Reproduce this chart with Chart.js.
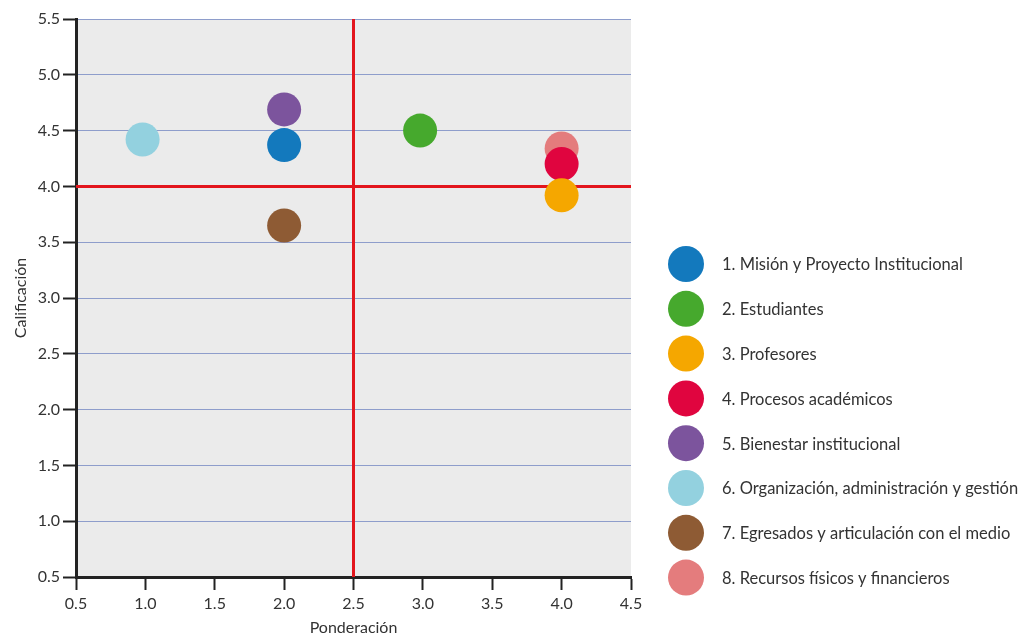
<!DOCTYPE html>
<html>
<head>
<meta charset="utf-8">
<script src="https://cdn.jsdelivr.net/npm/chart.js@4"></script>
<style>
  html, body { margin: 0; padding: 0; background: #fff; }
  canvas { display: block; }
</style>
</head>
<body>
<canvas id="chart" width="1026" height="637"></canvas>
<script>
// Factor labels, weighting (x) and score (y).
var factors = [
  "1. Misión y Proyecto Institucional",
  "2. Estudiantes",
  "3. Profesores",
  "4. Procesos académicos",
  "5. Bienestar institucional",
  "6. Organización, administración y gestión",
  "7. Egresados y articulación con el medio",
  "8. Recursos físicos y financieros"
];
var ponderacion = [2.0, 2.98, 4.0, 4.0, 2.0, 0.98, 2.0, 4.0];
var calificacion = [4.37, 4.50, 3.92, 4.20, 4.69, 4.42, 3.65, 4.34];
var colors = ["#1379bd", "#46a92d", "#f5a700", "#e0053f", "#7c549d", "#93d1df", "#8e5b34", "#e47c7d"];

// Quadrant split lines.
var xSplit = [2.5];
var ySplit = [4.0];

var FONT = "Lato, 'Open Sans', sans-serif";
var TEXT = "#333333";

(function () {
  "use strict";

  var datasets = factors.map(function (name, i) {
    return {
      label: name,
      data: [{ x: ponderacion[i], y: calificacion[i] }],
      backgroundColor: colors[i],
      borderWidth: 0,
      pointRadius: 17,
      pointHoverRadius: 17,
    };
  });

  // Gray plot background.
  var plotBg = {
    id: "plotBg",
    beforeDraw: function (chart) {
      var a = chart.chartArea, ctx = chart.ctx;
      ctx.save();
      ctx.fillStyle = "#ebebeb";
      ctx.fillRect(a.left, a.top, a.right - a.left, a.bottom - a.top);
      ctx.restore();
    },
  };

  // Red quadrant lines, under the points.
  var splitLines = {
    id: "splitLines",
    beforeDatasetsDraw: function (chart) {
      var a = chart.chartArea, ctx = chart.ctx;
      var xs = chart.scales.x, ys = chart.scales.y;
      ctx.save();
      ctx.strokeStyle = "#e3161d";
      ctx.lineWidth = 3;
      xSplit.forEach(function (v) {
        var px = xs.getPixelForValue(v);
        ctx.beginPath();
        ctx.moveTo(px, a.top);
        ctx.lineTo(px, a.bottom);
        ctx.stroke();
      });
      ySplit.forEach(function (v) {
        var py = ys.getPixelForValue(v);
        ctx.beginPath();
        ctx.moveTo(a.left, py);
        ctx.lineTo(a.right, py);
        ctx.stroke();
      });
      ctx.restore();
    },
  };

  // Legend on the right, big dots and labels.
  var sideLegend = {
    id: "sideLegend",
    afterDraw: function (chart) {
      var ctx = chart.ctx;
      ctx.save();
      ctx.font = "16.5px " + FONT;
      ctx.textBaseline = "middle";
      ctx.textAlign = "left";
      chart.data.datasets.forEach(function (ds, i) {
        var cy = 264 + i * 44.8;
        ctx.fillStyle = ds.backgroundColor;
        ctx.beginPath();
        ctx.arc(686, cy, 18, 0, Math.PI * 2);
        ctx.fill();
        ctx.fillStyle = TEXT;
        ctx.fillText(ds.label, 722, cy + 1);
      });
      ctx.restore();
    },
  };

  new Chart(document.getElementById("chart"), {
    type: "scatter",
    data: { datasets: datasets },
    plugins: [plotBg, splitLines, sideLegend],
    options: {
      responsive: false,
      animation: false,
      devicePixelRatio: 1,
      layout: { padding: { top: 19, right: 395, left: 0, bottom: 0 } },
      plugins: {
        legend: { display: false },
        tooltip: { enabled: false },
      },
      scales: {
        x: {
          type: "linear",
          min: 0.5,
          max: 4.5,
          afterFit: function (s) { s.height = 60; },
          ticks: {
            stepSize: 0.5,
            padding: 4,
            color: TEXT,
            font: { family: FONT, size: 16 },
            callback: function (v) { return Number(v).toFixed(1); },
          },
          grid: {
            drawOnChartArea: false,
            drawTicks: true,
            tickLength: 13,
            tickWidth: 2,
            tickColor: "#222",
          },
          border: { display: true, color: "#222", width: 3 },
          title: {
            display: true,
            text: "Ponderación",
            color: TEXT,
            font: { family: FONT, size: 16 },
            padding: { top: 0, bottom: 0 },
          },
        },
        y: {
          type: "linear",
          min: 0.5,
          max: 5.5,
          afterFit: function (s) { s.width = 76; },
          ticks: {
            stepSize: 0.5,
            padding: 3,
            color: TEXT,
            font: { family: FONT, size: 16 },
            callback: function (v) { return Number(v).toFixed(1); },
          },
          grid: {
            color: "#8e9dcb",
            lineWidth: 1,
            drawTicks: true,
            tickLength: 13,
            tickWidth: 2,
            tickColor: "#222",
          },
          border: { display: true, color: "#222", width: 3 },
          title: {
            display: true,
            text: "Calificación",
            color: TEXT,
            font: { family: FONT, size: 16 },
            padding: { top: 11, bottom: 0 },
          },
        },
      },
    },
  });
})();
</script>
</body>
</html>
